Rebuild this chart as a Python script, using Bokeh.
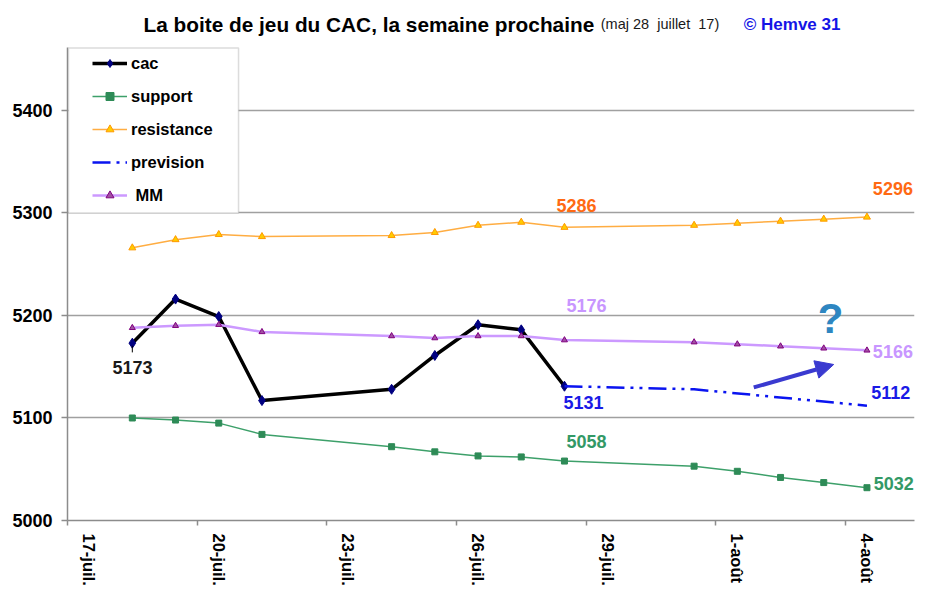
import pandas as pd
from bokeh.plotting import figure
from bokeh.models import (FixedTicker, Legend, LegendItem, BoxAnnotation, Label,
                          Arrow, NormalHead, Range1d)
from bokeh.embed import file_html
from bokeh.resources import INLINE

# ---------------- data ----------------
cac_dates = ["2017-07-18", "2017-07-19", "2017-07-20", "2017-07-21", "2017-07-24",
             "2017-07-25", "2017-07-26", "2017-07-27", "2017-07-28"]
cac = [5173, 5216, 5199, 5117, 5128, 5161, 5191, 5186, 5131]

all_dates = cac_dates + ["2017-07-31", "2017-08-01", "2017-08-02", "2017-08-03", "2017-08-04"]
support = [5100, 5098, 5095, 5084, 5072, 5067, 5063, 5062, 5058, 5053, 5048, 5042, 5037, 5032]
resistance = [5266, 5274, 5279, 5277, 5278, 5281, 5288, 5291, 5286, 5288, 5290, 5292, 5294, 5296]
mm = [5188, 5190, 5191, 5184, 5180, 5178, 5180, 5180, 5176, 5174, 5172, 5170, 5168, 5166]

prev_dates = ["2017-07-28", "2017-07-31", "2017-08-04"]
prevision = [5131, 5128, 5112]

tick_dates = ["2017-07-17", "2017-07-20", "2017-07-23", "2017-07-26", "2017-07-29",
              "2017-08-01", "2017-08-04"]
tick_labels = ["17-juil.", "20-juil.", "23-juil.", "26-juil.", "29-juil.", "1-août", "4-août"]
y_ticks = [5000, 5100, 5200, 5300, 5400]

BASE = pd.Timestamp("2017-07-17")


def slot_center(ds):
    # Excel date axis: each day occupies one slot, value drawn at the slot centre
    return [(pd.Timestamp(d) - BASE).days + 0.5 for d in ds]


x_cac = slot_center(cac_dates)
x_all = slot_center(all_dates)
x_prev = slot_center(prev_dates)
x_tick_lab = slot_center(tick_dates)
x_tick_bound = [v - 0.5 for v in x_tick_lab]

FONT = "Liberation Sans"
GRAY = "#8c8c8c"
Y_AXIS_TOP = 5461

p = figure(width=925, height=589, output_backend="svg", toolbar_location=None,
           x_range=Range1d(0, 19.6), y_range=Range1d(5000, 5507.3),
           min_border_left=67, min_border_right=11, min_border_top=0, min_border_bottom=69)
p.outline_line_color = None
p.background_fill_color = "white"

# axes
p.xaxis.ticker = FixedTicker(ticks=x_tick_lab, minor_ticks=x_tick_bound)
p.xaxis.major_label_overrides = {v: t for v, t in zip(x_tick_lab, tick_labels)}
p.xaxis.major_label_orientation = "vertical"
p.xaxis.major_tick_out = 0
p.xaxis.major_tick_in = 0
p.xaxis.minor_tick_out = 5
p.xaxis.minor_tick_in = 0
p.xaxis.minor_tick_line_color = GRAY
p.xaxis.minor_tick_line_width = 1.5
p.xaxis.axis_line_color = GRAY
p.xaxis.axis_line_width = 1.5
p.xaxis.major_label_standoff = 8
p.xaxis.major_label_text_font = FONT
p.xaxis.major_label_text_font_style = "bold"
p.xaxis.major_label_text_font_size = "16.5px"
p.xaxis.major_label_text_color = "black"

p.yaxis.ticker = FixedTicker(ticks=y_ticks, minor_ticks=[])
p.yaxis.bounds = (5000, Y_AXIS_TOP)
p.yaxis.major_tick_out = 6
p.yaxis.major_tick_in = 0
p.yaxis.major_tick_line_color = GRAY
p.yaxis.major_tick_line_width = 1.5
p.yaxis.axis_line_color = GRAY
p.yaxis.axis_line_width = 1.5
p.yaxis.major_label_standoff = 9
p.yaxis.major_label_text_font = FONT
p.yaxis.major_label_text_font_style = "bold"
p.yaxis.major_label_text_font_size = "18px"
p.yaxis.major_label_text_color = "black"

p.xgrid.visible = False
p.ygrid.ticker = FixedTicker(ticks=y_ticks)
p.ygrid.grid_line_color = "#a0a0a0"
p.ygrid.grid_line_width = 1.5

# series
l_cac = p.line(x_cac, cac, line_color="black", line_width=3.5)
m_cac = p.scatter(x_cac, cac, marker="diamond", size=10, fill_color="#000080", line_color="#000080")

l_sup = p.line(x_all, support, line_color="#3da06a", line_width=1.5)
m_sup = p.scatter(x_all, support, marker="square", size=6, fill_color="#2e8b57", line_color="#2e8b57")

l_res = p.line(x_all, resistance, line_color="#ffad42", line_width=1.5)
m_res = p.scatter(x_all, resistance, marker="triangle", size=7, fill_color="#ffcc00", line_color="#ff9900")

l_prev = p.line(x_prev, prevision, line_color="#0a14f0", line_width=2.5, line_dash="18 6 3 6 3 6")

l_mm = p.line(x_all, mm, line_color="#cc99ff", line_width=2.5)
m_mm = p.scatter(x_all, mm, marker="triangle", size=6, fill_color="#a050a0", line_color="#800080")

# leader line for first cac label
p.segment(x0=[x_cac[0]], y0=[5170.5], x1=[x_cac[0]], y1=[5164], line_color="black", line_width=1)

# value labels
def vlabel(x, y, text, color):
    p.add_layout(Label(x=x, y=y, text=text, text_color=color, text_font=FONT,
                       text_font_style="bold", text_font_size="18px",
                       text_align="center", text_baseline="middle"))

vlabel(1.505, 5149.3, "5173", "#1a1a1a")
vlabel(11.78, 5307.3, "5286", "#ff6a13")
vlabel(19.10, 5323.9, "5296", "#ff6a13")
vlabel(12.01, 5209.8, "5176", "#c896ff")
vlabel(19.10, 5164.9, "5166", "#c896ff")
vlabel(11.94, 5115.1, "5131", "#1a1ae6")
vlabel(19.05, 5124.9, "5112", "#1a1ae6")
vlabel(12.01, 5077.1, "5058", "#339966")
vlabel(19.12, 5036.1, "5032", "#339966")

# arrow and question mark
ac = "#3a3ad0"
p.add_layout(Arrow(end=NormalHead(size=18, fill_color=ac, line_color=ac),
                   x_start=15.88, y_start=5129.8, x_end=17.73, y_end=5152.2,
                   line_color=ac, line_width=4))
p.add_layout(Label(x=17.66, y=5197, text="?", text_color="#2e86c1", text_font=FONT,
                   text_font_style="bold", text_font_size="42px",
                   text_align="center", text_baseline="middle"))

# title (placed in the top band of the frame, above the axis bounds)
TITLE_Y = 5483.9
p.add_layout(Label(x=1.759, y=TITLE_Y,
                   text="La boite de jeu du CAC, la semaine prochaine", text_font=FONT,
                   text_font_style="bold", text_font_size="20.8px", text_color="black",
                   text_align="left", text_baseline="alphabetic"))
p.add_layout(Label(x=12.34, y=TITLE_Y,
                   text="(maj 28\u00a0 juillet\u00a0 17)", text_font=FONT,
                   text_font_size="14.5px", text_color="#1a1a1a",
                   text_align="left", text_baseline="alphabetic"))
p.add_layout(Label(x=15.65, y=TITLE_Y,
                   text="\u00a9 Hemve 31", text_font=FONT,
                   text_font_style="bold", text_font_size="17px", text_color="#1414e6",
                   text_align="left", text_baseline="alphabetic"))

# legend box
p.add_layout(BoxAnnotation(left=0.023, right=3.958, bottom=5300, top=Y_AXIS_TOP,
                           fill_color="white", fill_alpha=1.0,
                           line_color=GRAY, line_width=1.5))

legend = Legend(items=[
    LegendItem(label="cac", renderers=[l_cac, m_cac]),
    LegendItem(label="support", renderers=[l_sup, m_sup]),
    LegendItem(label="resistance", renderers=[l_res, m_res]),
    LegendItem(label="prevision", renderers=[l_prev]),
    LegendItem(label="\u00a0MM", renderers=[l_mm, m_mm]),
], location=(25, 315))
legend.border_line_color = None
legend.background_fill_alpha = 0
legend.padding = 6
legend.spacing = 13
legend.glyph_width = 35
legend.glyph_height = 20
legend.label_height = 20
legend.label_standoff = 4
legend.label_text_font = FONT
legend.label_text_font_style = "bold"
legend.label_text_font_size = "16.5px"
legend.label_text_color = "black"
p.add_layout(legend)

with open("out.html", "w", encoding="utf-8") as f:
    f.write(file_html(p, INLINE))
